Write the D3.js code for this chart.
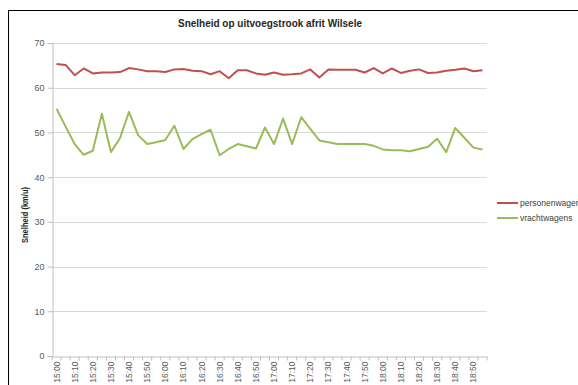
<!DOCTYPE html>
<html><head><meta charset="utf-8">
<script src="https://cdn.jsdelivr.net/npm/d3@7"></script>
<style>body{margin:0;background:#fff}svg{display:block}</style>
</head><body>
<script>
const times = [];
for (let h = 15; h <= 18; h++) for (let m = 0; m < 60; m += 5) times.push(h + ":" + String(m).padStart(2, "0"));
const personenwagens = [65.3,65.1,62.8,64.3,63.2,63.4,63.4,63.5,64.4,64.1,63.7,63.7,63.5,64.1,64.2,63.8,63.7,63.0,63.7,62.1,63.9,63.9,63.2,62.9,
  63.4,62.9,63.0,63.2,64.1,62.3,64.1,64.0,64.0,64.0,63.4,64.4,63.2,64.3,63.3,63.8,64.1,63.3,63.4,63.8,64.0,64.3,63.7,63.9];
const vrachtwagens = [55.3,51.3,47.4,45.0,45.9,54.2,45.6,48.7,54.6,49.4,47.4,47.8,48.3,51.5,46.3,48.5,49.6,50.6,44.9,46.3,47.4,46.9,46.4,51.1,
  47.4,53.1,47.4,53.4,50.8,48.2,47.8,47.4,47.4,47.4,47.4,47.0,46.2,46.0,46.0,45.8,46.3,46.8,48.6,45.6,51.0,48.8,46.6,46.2];
const yTicks = [0,10,20,30,40,50,60,70];
const seriesNames = ["personenwagens","vrachtwagens"];
const colors = ["#c0504d","#9bbb59"];

(function () {
const W = 578, H = 385;
const svg = d3.select("body").append("svg").attr("width", W).attr("height", H);
svg.append("rect").attr("x", 8.5).attr("y", 10.5).attr("width", 600).attr("height", 400)
  .attr("fill", "#fff").attr("stroke", "#000").attr("stroke-width", 1);

const pL = 52, pR = 487, pT = 43, pB = 356;
const x = d3.scaleBand().domain(times).range([pL, pR]);
const y = d3.scaleLinear().domain([0, 70]).range([pB, pT]);

// gridlines
svg.append("g").selectAll("line").data(yTicks.filter(d => d > 0)).join("line")
  .attr("x1", pL).attr("x2", pR).attr("y1", d => Math.round(y(d)) + 0.5).attr("y2", d => Math.round(y(d)) + 0.5)
  .attr("stroke", "#d9d9d9").attr("stroke-width", 1);

// y axis
const ya = svg.append("g").attr("transform", `translate(${pL + 0.5},0)`)
  .call(d3.axisLeft(y).tickValues(yTicks).tickSize(5).tickPadding(3));
ya.select(".domain").attr("stroke", "#bfbfbf");
ya.selectAll(".tick line").attr("stroke", "#bfbfbf");
ya.selectAll("text").attr("fill", "#595959").style("font-family", "Liberation Sans, Arial, sans-serif").style("font-size", "9px");

// x axis
const xa = svg.append("g").attr("transform", `translate(0,${pB + 0.5})`)
  .call(d3.axisBottom(x).tickValues([]).tickSize(0));
xa.select(".domain").attr("stroke", "#bfbfbf");
xa.selectAll(".bt").data(times.concat(["end"])).join("line")
  .attr("x1", (d, i) => i < times.length ? x(d) : pR).attr("x2", (d, i) => i < times.length ? x(d) : pR)
  .attr("y1", 0).attr("y2", 4).attr("stroke", "#bfbfbf");
xa.selectAll(".xl").data(times.filter((d, i) => i % 2 === 0)).join("text")
  .attr("transform", d => `translate(${x(d) + x.bandwidth() / 2 + 3},5) rotate(-90)`)
  .attr("text-anchor", "end").attr("fill", "#595959")
  .style("font-family", "Liberation Sans, Arial, sans-serif").style("font-size", "8.5px").text(d => d);

// lines
const line = d3.line().x((d, i) => x(times[i]) + x.bandwidth() / 2).y(d => y(d));
[personenwagens, vrachtwagens].forEach((s, k) => {
  svg.append("path").datum(s).attr("d", line).attr("fill", "none")
    .attr("stroke", colors[k]).attr("stroke-width", 2).attr("stroke-linejoin", "round");
});

// title
svg.append("text").attr("x", 270).attr("y", 27).attr("text-anchor", "middle")
  .style("font-family", "Liberation Sans, Arial, sans-serif").style("font-weight", "bold").style("font-size", "11px")
  .attr("fill", "#262626").attr("textLength", 184).attr("lengthAdjust", "spacingAndGlyphs")
  .text("Snelheid op uitvoegstrook afrit Wilsele");

// y title
svg.append("text").attr("transform", "translate(28,215) rotate(-90)").attr("text-anchor", "middle")
  .style("font-family", "Liberation Sans, Arial, sans-serif").style("font-weight", "bold").style("font-size", "8.5px")
  .attr("fill", "#262626").attr("textLength", 56).attr("lengthAdjust", "spacingAndGlyphs")
  .text("Snelheid (km/u)");

// legend
const lg = svg.append("g");
seriesNames.forEach((n, k) => {
  const ly = 203 + k * 15;
  lg.append("line").attr("x1", 497).attr("x2", 518).attr("y1", ly).attr("y2", ly).attr("stroke", colors[k]).attr("stroke-width", 2);
  lg.append("text").attr("x", 520).attr("y", ly + 3).style("font-family", "Liberation Sans, Arial, sans-serif").style("font-size", "8.5px")
    .attr("fill", "#404040").text(n);
});
})();
</script>
</body></html>
